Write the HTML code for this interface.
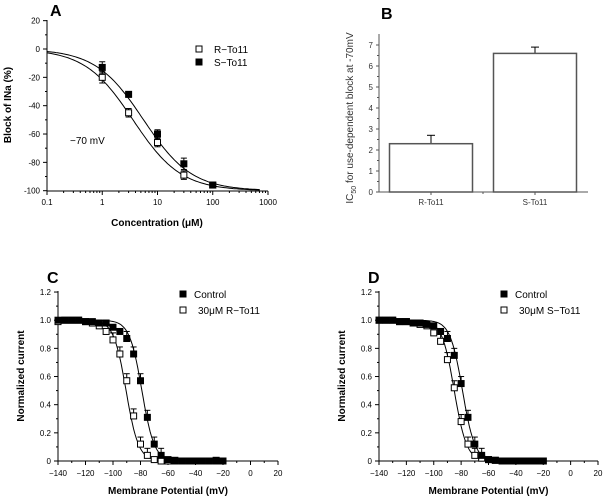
<!DOCTYPE html>
<html><head><meta charset="utf-8"><style>
body{margin:0;background:#fff}
svg{display:block;font-family:"Liberation Sans",sans-serif}
</style></head><body>
<svg id="s" width="605" height="498" xmlns="http://www.w3.org/2000/svg"></svg>
<script>
const aConc=[1,3,10,30,100];
const aR=[-20,-45,-66,-89,-96];
const aRerr=[4,3,3,3,1];
const aS=[-13,-32,-60,-81,-96];
const aSerr=[4,2,3,4,1];
const aIC50=[3.6,5.6];
const bCats=['R-To11','S-To11'];
const bVals=[2.3,6.6];
const bErr=[0.4,0.3];
const volts=[-140,-135,-130,-125,-120,-115,-110,-105,-100,-95,-90,-85,-80,-75,-70,-65,-60,-55,-50,-45,-40,-35,-30,-25,-20];
const cCtrl=[1,1,1,1,0.99,0.99,0.98,0.98,0.95,0.92,0.87,0.76,0.57,0.31,0.12,0.04,0.01,0.005,0,0,0,0,0,0.005,0];
const cDrug=[0.99,1,1,1,0.99,0.98,0.96,0.92,0.86,0.76,0.57,0.32,0.12,0.04,0.01,0,0,0,0,0,0,0,0,0,0];
const dCtrl=[1,1,1,0.99,0.99,0.98,0.98,0.97,0.96,0.92,0.87,0.75,0.55,0.31,0.12,0.04,0.01,0.005,0,0,0,0,0,0,0];
const dDrug=[1,1,1,0.99,0.99,0.98,0.97,0.96,0.91,0.85,0.72,0.52,0.28,0.12,0.04,0.02,0.01,0.005,0,0,0,0,0,0,0];
const cFit=[-79,-90.5,4.5];
const dFit=[-79,-85,4.5];

const S=document.getElementById('s');const NS='http://www.w3.org/2000/svg';
function el(t,a,p){const e=document.createElementNS(NS,t);for(const k in a)e.setAttribute(k,a[k]);(p||S).appendChild(e);return e;}
function txt(x,y,s,a,p){const e=el('text',Object.assign({x:x,y:y,'font-size':9,'text-anchor':'middle'},a||{}),p);e.textContent=s;return e;}
function grp(n){const g=el('g',{});return g;}
function sq(g,x,y,filled){const r=el('rect',{x:x-3,y:y-3,width:6,height:6,fill:filled?'#000':'#fff',stroke:'#000','stroke-width':1},g);}

// ---- Panel A
(function(){
const g=grp('panel-a');
const X=c=>47+(Math.log10(c)+1)*55.25, Y=v=>49-v*1.417;
txt(50,16,'A',{'font-size':16,'font-weight':'bold','text-anchor':'start'},g);
el('line',{x1:47,y1:20,x2:47,y2:191,stroke:'#000'},g);
el('line',{x1:47,y1:191,x2:268,y2:191,stroke:'#000'},g);
for(let v=-100;v<=20;v+=20){el('line',{x1:43,y1:Y(v),x2:47,y2:Y(v),stroke:'#000'},g);txt(40,Y(v)+3,String(v),{'text-anchor':'end','font-size':8},g);}
for(let v=-90;v<=10;v+=20)el('line',{x1:45,y1:Y(v),x2:47,y2:Y(v),stroke:'#000'},g);
['0.1','1','10','100','1000'].forEach((s,i)=>{const x=47+i*55.25;el('line',{x1:x,y1:191,x2:x,y2:195,stroke:'#000'},g);txt(x,205,s,{'font-size':8},g);
 if(i<4)for(let m=2;m<10;m++){const xm=x+Math.log10(m)*55.25;el('line',{x1:xm,y1:191,x2:xm,y2:193,stroke:'#000'},g);}});
txt(157,226,'Concentration (μM)',{'font-size':10,'font-weight':'bold'},g);
txt(0,0,'Block of INa (%)',{'font-size':10,'font-weight':'bold',transform:'translate(11,105) rotate(-90)'},g);
txt(70,144,'−70  mV',{'font-size':10,'text-anchor':'start'},g);
aIC50.forEach(ic=>{let d='';for(let i=0;i<=120;i++){const c=Math.pow(10,-1+i*(3.85/120));d+=(i?'L':'M')+X(c).toFixed(1)+' '+Y(-100/(1+ic/c)).toFixed(1);}el('path',{d:d,fill:'none',stroke:'#000','stroke-width':1},g);});
[[aR,aRerr,false],[aS,aSerr,true]].forEach(([v,e,f])=>aConc.forEach((c,i)=>{el('line',{x1:X(c),y1:Y(v[i]-e[i]),x2:X(c),y2:Y(v[i]+e[i]),stroke:'#000'},g);el('line',{x1:X(c)-3,y1:Y(v[i]-e[i]),x2:X(c)+3,y2:Y(v[i]-e[i]),stroke:'#000'},g);el('line',{x1:X(c)-3,y1:Y(v[i]+e[i]),x2:X(c)+3,y2:Y(v[i]+e[i]),stroke:'#000'},g);sq(g,X(c),Y(v[i]),f);}));
sq(g,199,49,false);txt(214,53,'R−To11',{'font-size':10,'text-anchor':'start'},g);
sq(g,199,62,true);txt(214,66,'S−To11',{'font-size':10,'text-anchor':'start'},g);
})();

// ---- Panel B
(function(){
const g=grp('panel-b');
const Y=v=>192-v*21;
txt(381,19,'B',{'font-size':16,'font-weight':'bold','text-anchor':'start'},g);
el('line',{x1:379,y1:34,x2:379,y2:192,stroke:'#555'},g);
el('line',{x1:379,y1:192,x2:588,y2:192,stroke:'#555'},g);
for(let v=0;v<=7;v++){el('line',{x1:376,y1:Y(v),x2:379,y2:Y(v),stroke:'#555'},g);txt(373,Y(v)+3,String(v),{'text-anchor':'end','font-size':8,fill:'#333'},g);}
for(let v=0.5;v<7.5;v+=1)el('line',{x1:377,y1:Y(v),x2:379,y2:Y(v),stroke:'#555'},g);
const cx=[431,535];
bCats.forEach((c,i)=>{el('line',{x1:cx[i],y1:Y(bVals[i]+bErr[i]),x2:cx[i],y2:Y(bVals[i]),stroke:'#000'},g);el('line',{x1:cx[i]-4,y1:Y(bVals[i]+bErr[i]),x2:cx[i]+4,y2:Y(bVals[i]+bErr[i]),stroke:'#000'},g);
 const r=el('rect',{x:cx[i]-41.5,y:Y(bVals[i]),width:83,height:192-Y(bVals[i]),fill:'#fff',stroke:'#555','stroke-width':1.5},g);
 el('line',{x1:cx[i],y1:192,x2:cx[i],y2:195,stroke:'#555'},g);txt(cx[i],205,c,{'font-size':8,fill:'#333'},g);});
el('line',{x1:483,y1:192,x2:483,y2:194,stroke:'#555'},g);
const t=txt(0,0,'',{'font-size':10,fill:'#333',transform:'translate(353,118) rotate(-90)'},g);
t.innerHTML='IC<tspan font-size="7" dy="3">50</tspan><tspan dy="-3"> for use-dependent block at -70mV</tspan>';
})();

// ---- Panels C, D
function panelV(name,letter,x0,x1,ctrl,drug,fit,drugLabel){
const g=grp(name);
const X=v=>x0+(v+140)*(x1-x0)/160, Y=v=>461-v*140.8;
txt(x0-11,283,letter,{'font-size':16,'font-weight':'bold','text-anchor':'start'},g);
el('line',{x1:x0,y1:291,x2:x0,y2:461,stroke:'#000'},g);
el('line',{x1:x0,y1:461,x2:x1,y2:461,stroke:'#000'},g);
for(let i=0;i<=6;i++){const v=i*0.2;el('line',{x1:x0-4,y1:Y(v),x2:x0,y2:Y(v),stroke:'#000'},g);txt(x0-7,Y(v)+3,i==0?'0':v.toFixed(1),{'text-anchor':'end','font-size':8},g);if(i<6)el('line',{x1:x0-2,y1:Y(v+0.1),x2:x0,y2:Y(v+0.1),stroke:'#000'},g);}
for(let v=-140;v<=20;v+=20){el('line',{x1:X(v),y1:461,x2:X(v),y2:465,stroke:'#000'},g);txt(X(v),476,String(v).replace('-','−'),{'font-size':8},g);if(v<20)el('line',{x1:X(v+10),y1:461,x2:X(v+10),y2:463,stroke:'#000'},g);}
txt((x0+x1)/2,494,'Membrane Potential (mV)',{'font-size':10,'font-weight':'bold'},g);
txt(0,0,'Normalized current',{'font-size':10,'font-weight':'bold',transform:'translate('+(x0-34)+',376) rotate(-90)'},g);
[fit[0],fit[1]].forEach(v5=>{let d='';for(let v=-140;v<=-20;v+=1)d+=(v==-140?'M':'L')+X(v).toFixed(1)+' '+Y(1/(1+Math.exp((v-v5)/fit[2]))).toFixed(1);el('path',{d:d,fill:'none',stroke:'#000'},g);});
[[drug,false],[ctrl,true]].forEach(([arr,f])=>volts.forEach((v,i)=>{if(arr[i]>0.03&&arr[i]<0.9){el('line',{x1:X(v),y1:Y(arr[i]),x2:X(v),y2:Y(arr[i]+0.05),stroke:'#000'},g);el('line',{x1:X(v)-3,y1:Y(arr[i]+0.05),x2:X(v)+3,y2:Y(arr[i]+0.05),stroke:'#000'},g);}sq(g,X(v),Y(arr[i]),f);}));
sq(g,x0+125,294,true);txt(x0+136,298,'Control',{'font-size':10,'text-anchor':'start'},g);
sq(g,x0+125,310,false);txt(x0+140,314,drugLabel,{'font-size':10,'text-anchor':'start'},g);
}
panelV('panel-c','C',58,278,cCtrl,cDrug,cFit,'30μM  R−To11');
panelV('panel-d','D',379,598,dCtrl,dDrug,dFit,'30μM  S−To11');
</script>
</body></html>
